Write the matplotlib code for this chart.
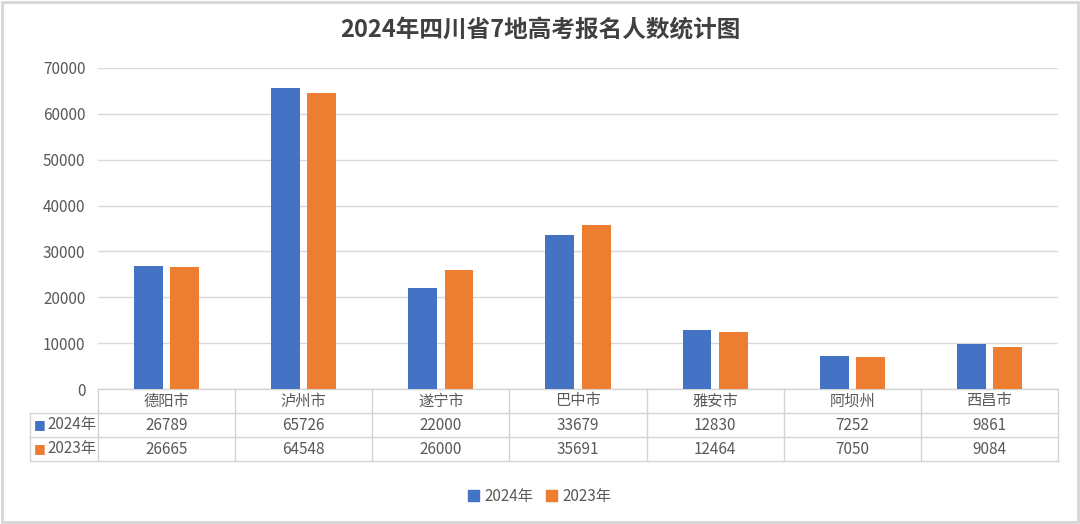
import matplotlib.pyplot as plt
import matplotlib.transforms as mtransforms
from matplotlib.patches import Rectangle
import numpy as np

plt.rcParams['font.family'] = ['Noto Sans CJK SC', 'DejaVu Sans']

cities = ['德阳市', '泸州市', '遂宁市', '巴中市', '雅安市', '阿坝州', '西昌市']
values_2024 = [26789, 65726, 22000, 33679, 12830, 7252, 9861]
values_2023 = [26665, 64548, 26000, 35691, 12464, 7050, 9084]
series_names = ['2024年', '2023年']
title = '2024年四川省7地高考报名人数统计图'

blue = '#4472C4'
orange = '#ED7D31'
text_c = '#595959'
grid_c = '#D9D9D9'
tbl_c = '#D4D4D4'

fig = plt.figure(figsize=(10.8, 5.24), dpi=100)
fig.patch.set_facecolor('white')
fig.patches.append(Rectangle((0.002, 0.004), 0.996, 0.992, transform=fig.transFigure,
                             fill=False, edgecolor='#D6D6D6', linewidth=2))

ax = fig.add_axes([98 / 1080, 1 - 389 / 524, 960 / 1080, 321 / 524])
x = np.arange(len(cities))
w = 0.21
gap = 0.055
ax.bar(x - (w + gap) / 2, values_2024, w, color=blue, zorder=3)
ax.bar(x + (w + gap) / 2, values_2023, w, color=orange, zorder=3)

ax.set_xlim(-0.5, len(cities) - 0.5)
ax.set_ylim(0, 70000)
ax.set_yticks(np.arange(0, 70001, 10000))
ax.yaxis.grid(True, color=grid_c, linewidth=1)
ax.set_axisbelow(True)
for s in ax.spines.values():
    s.set_visible(False)
ax.tick_params(axis='y', length=0, labelsize=11, labelcolor=text_c, pad=9)
ax.set_xticks([])

fig.text(0.5, 1 - 30 / 524, title, ha='center', va='center', fontsize=17,
         fontweight='bold', color='#404040')

# data table under the axes
trans = mtransforms.blended_transform_factory(ax.transData, ax.transAxes)
rh = 24 / 321
left_x = -0.5 - 68 / (960 / 7)
ys = [0, -rh, -2 * rh, -3 * rh]
ax.plot([-0.5, 6.5], [0, 0], color=tbl_c, lw=1, transform=trans, clip_on=False)
for yy in ys[1:]:
    ax.plot([left_x, 6.5], [yy, yy], color=tbl_c, lw=1, transform=trans, clip_on=False)
for b in np.arange(-0.5, 7.0, 1.0):
    ax.plot([b, b], [0, ys[-1]], color=tbl_c, lw=1, transform=trans, clip_on=False)
ax.plot([left_x, left_x], [ys[1], ys[-1]], color=tbl_c, lw=1, transform=trans, clip_on=False)

for i, c in enumerate(cities):
    ax.text(i, -rh / 2, c, ha='center', va='center', fontsize=11, color=text_c,
            transform=trans, clip_on=False)
    ax.text(i, -1.5 * rh, str(values_2024[i]), ha='center', va='center', fontsize=11,
            color=text_c, transform=trans, clip_on=False)
    ax.text(i, -2.5 * rh, str(values_2023[i]), ha='center', va='center', fontsize=11,
            color=text_c, transform=trans, clip_on=False)

for k, (name, col) in enumerate(zip(series_names, [blue, orange])):
    yy = -(1.5 + k) * rh
    ax.text(left_x + 0.03, yy, '■', ha='left', va='center', fontsize=9, color=col,
            transform=trans, clip_on=False, family='DejaVu Sans')
    ax.text(left_x + 0.13, yy, name, ha='left', va='center', fontsize=11,
            color=text_c, transform=trans, clip_on=False)

handles = [Rectangle((0, 0), 1, 1, color=blue), Rectangle((0, 0), 1, 1, color=orange)]
fig.legend(handles, series_names, loc='center', bbox_to_anchor=(0.5, 1 - 496 / 524),
           ncol=2, frameon=False, fontsize=11, handlelength=0.7, handleheight=0.7,
           handletextpad=0.4, columnspacing=0.8, labelcolor=text_c)

fig.savefig('out.png', dpi=100)
